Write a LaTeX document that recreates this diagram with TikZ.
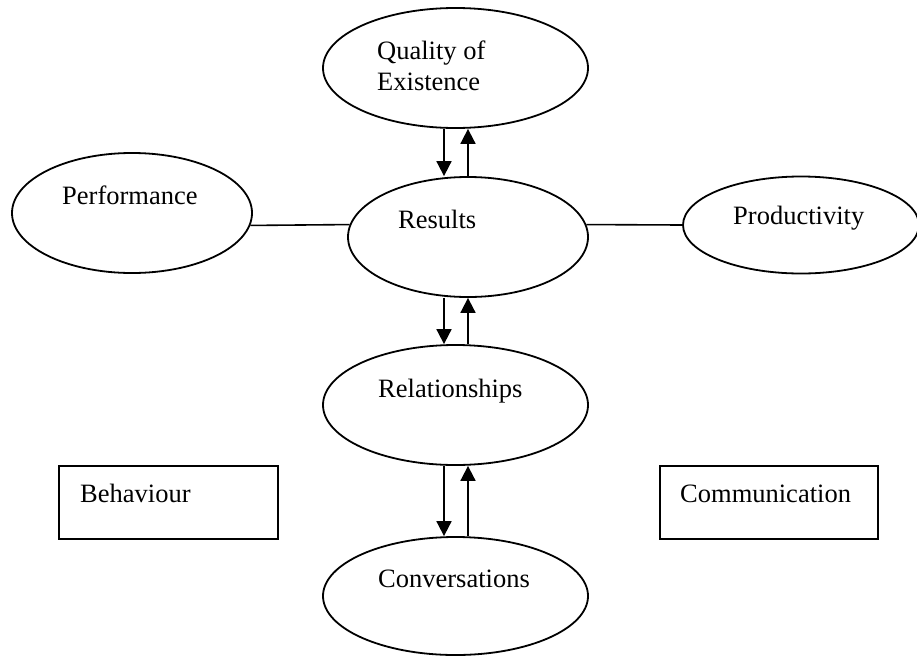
\documentclass[tikz,border=0pt]{standalone}
\usepackage{fontspec}
\setmainfont{Liberation Serif}
\usetikzlibrary{shapes.geometric,arrows.meta}
\begin{document}
\begin{tikzpicture}[x=1pt,y=-1pt,
  every node/.style={font=\fontsize{26.5}{31}\selectfont},
  oval/.style={draw, ellipse, line width=1.8pt, inner sep=0pt},
  tagbox/.style={draw, rectangle, line width=1.8pt, inner sep=0pt, anchor=north west},
  caption/.style={anchor=base west, inner sep=0pt},
  flow/.style={line width=1.8pt, -{Triangle[width=15pt,length=15pt]}},
  link/.style={line width=1.6pt}]
\useasboundingbox (0,0) rectangle (917,656);

% ovals
\node[oval, minimum width=265pt, minimum height=120pt] (qual) at (455.5,68) {};
\node[oval, minimum width=240pt, minimum height=120pt] (res)  at (468,237) {};
\node[oval, minimum width=240pt, minimum height=120pt] (perf) at (132,213) {};
\node[oval, minimum width=236pt, minimum height=97pt]  (prod) at (801,225) {};
\node[oval, minimum width=265pt, minimum height=120pt] (rel)  at (455.5,405) {};
\node[oval, minimum width=265pt, minimum height=118pt] (conv) at (455.5,596) {};

% boxes
\node[tagbox, minimum width=219pt, minimum height=73pt] (beh)  at (58,465) {};
\node[tagbox, minimum width=218pt, minimum height=73pt] (comm) at (659,465) {};

% labels
\node[caption] (qualA) at (377,59)  {Quality of};
\node[caption] (qualB) at (377,90)  {Existence};
\node[caption] (resT)  at (398,228) {Results};
\node[caption] (perfT) at (62,204)  {Performance};
\node[caption] (prodT) at (733,224) {Productivity};
\node[caption] (relT)  at (378,397) {Relationships};
\node[caption] (convT) at (378,587) {Conversations};
\node[caption] (behT)  at (80,502)  {Behaviour};
\node[caption] (commT) at (680,502) {Communication};

% arrow columns
\coordinate (down) at (444,0);
\coordinate (up)   at (468,0);

\draw[flow] (qual.south -| down) -- (res.north -| down);
\draw[flow] (res.north -| up) -- (qual.south -| up);
\draw[flow] (res.south -| down) -- (rel.north -| down);
\draw[flow] (rel.north -| up) -- (res.south -| up);
\draw[flow] (rel.south -| down) -- (conv.north -| down);
\draw[flow] (conv.north -| up) -- (rel.south -| up);

% side links
\draw[link] (perf.-6) -- (res.174);
\draw[link] (res.6) -- (prod.west);
\end{tikzpicture}
\end{document}
